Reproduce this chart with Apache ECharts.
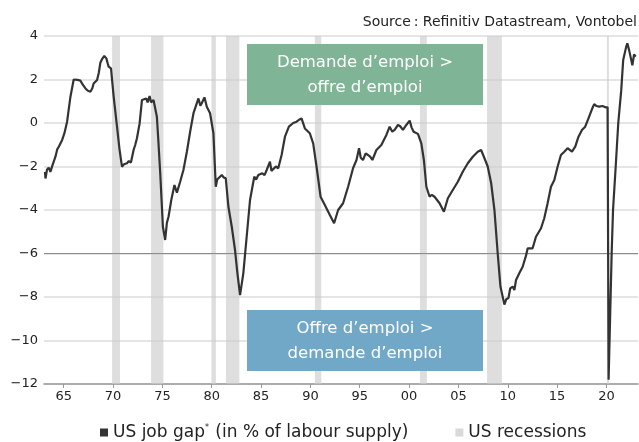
<!DOCTYPE html>
<html>
<head>
<meta charset="utf-8">
<script src="https://cdn.jsdelivr.net/npm/echarts@6/dist/echarts.min.js"></script>
<style>html,body{margin:0;padding:0;background:#fff}#c{width:639px;height:442px}</style>
</head>
<body>
<div id="c"></div>
<script>
// ---- data ----
const years = [1963.10,1963.15,1963.30,1963.48,1963.65,1963.83,1964.00,1964.16,1964.35,1964.50,1964.65,1964.84,1965.07,1965.34,1965.50,1965.68,1966.01,1966.18,1966.40,1966.69,1966.95,1967.20,1967.45,1967.70,1967.90,1968.03,1968.20,1968.38,1968.55,1968.71,1968.90,1969.11,1969.32,1969.45,1969.55,1969.79,1970.06,1970.40,1970.65,1970.90,1971.10,1971.41,1971.60,1971.81,1972.08,1972.25,1972.42,1972.69,1972.93,1973.10,1973.36,1973.50,1973.70,1973.85,1974.10,1974.44,1974.60,1974.78,1975.05,1975.28,1975.45,1975.62,1975.90,1976.22,1976.47,1976.80,1977.13,1977.48,1977.81,1978.15,1978.49,1978.65,1978.85,1978.99,1979.26,1979.50,1979.83,1980.17,1980.41,1980.55,1980.68,1981.02,1981.20,1981.42,1981.69,1982.03,1982.36,1982.60,1982.87,1983.20,1983.54,1983.88,1984.31,1984.50,1984.72,1985.12,1985.35,1985.57,1985.90,1986.05,1986.23,1986.50,1986.74,1987.08,1987.42,1987.82,1988.26,1988.60,1988.85,1989.10,1989.44,1989.94,1990.28,1990.62,1991.03,1991.46,1991.97,1992.40,1992.81,1993.31,1993.82,1994.32,1994.67,1994.93,1995.10,1995.33,1995.60,1995.84,1996.05,1996.28,1996.69,1997.19,1997.70,1998.03,1998.30,1998.54,1998.87,1999.10,1999.38,1999.72,2000.06,2000.25,2000.46,2000.90,2001.24,2001.50,2001.75,2002.08,2002.30,2002.58,2003.09,2003.53,2003.93,2004.43,2004.94,2005.44,2005.95,2006.46,2006.96,2007.30,2007.64,2007.97,2008.32,2008.65,2008.98,2009.26,2009.66,2009.85,2010.07,2010.25,2010.50,2010.67,2010.84,2011.18,2011.51,2011.85,2012.02,2012.52,2012.86,2013.37,2013.70,2014.04,2014.38,2014.72,2015.05,2015.39,2015.73,2016.06,2016.51,2016.84,2017.17,2017.52,2017.85,2018.18,2018.53,2018.76,2019.00,2019.27,2019.60,2019.90,2020.12,2020.22,2020.53,2020.67,2020.94,2021.20,2021.50,2021.70,2022.00,2022.12,2022.30,2022.47,2022.63,2022.80,2022.97];
const jobGap = [-2.25,-2.55,-2.15,-2.05,-2.25,-1.98,-1.90,-1.55,-1.20,-1.09,-1.00,-0.78,-0.47,0.06,0.60,1.21,2.00,2.05,1.98,1.95,1.75,1.59,1.48,1.44,1.60,1.82,1.90,1.98,2.30,2.77,2.95,3.08,2.97,2.75,2.59,2.51,1.21,-0.17,-1.20,-2.01,-1.90,-1.85,-1.75,-1.82,-1.24,-1.00,-0.70,-0.02,1.06,1.00,1.13,0.95,1.24,0.95,1.06,0.29,-0.90,-2.31,-4.77,-5.38,-4.60,-4.31,-3.54,-2.85,-3.20,-2.70,-2.16,-1.32,-0.40,0.45,0.91,1.13,0.80,0.91,1.18,0.75,0.45,-0.47,-2.93,-2.60,-2.54,-2.39,-2.50,-2.54,-3.85,-4.77,-5.84,-6.90,-7.91,-6.91,-5.23,-3.54,-2.47,-2.60,-2.39,-2.31,-2.40,-2.16,-1.78,-2.20,-2.24,-2.00,-2.08,-1.47,-0.63,-0.17,0.00,0.06,0.15,0.21,-0.25,-0.47,-0.94,-2.00,-3.39,-3.77,-4.23,-4.61,-4.00,-3.69,-2.93,-2.08,-1.70,-1.16,-1.60,-1.70,-1.40,-1.47,-1.55,-1.70,-1.24,-1.01,-0.55,-0.17,-0.40,-0.32,-0.09,-0.15,-0.32,-0.09,0.11,-0.20,-0.40,-0.50,-0.94,-1.70,-2.93,-3.39,-3.30,-3.39,-3.69,-4.08,-3.46,-3.08,-2.70,-2.24,-1.85,-1.55,-1.32,-1.24,-1.62,-2.00,-2.77,-4.00,-5.99,-7.52,-8.35,-8.10,-8.05,-7.60,-7.52,-7.68,-7.22,-6.90,-6.61,-6.10,-5.76,-5.76,-5.23,-4.84,-4.38,-3.69,-2.93,-2.62,-2.01,-1.47,-1.32,-1.16,-1.32,-1.09,-0.63,-0.32,-0.17,0.21,0.63,0.87,0.78,0.75,0.78,0.72,0.72,-11.80,-6.00,-4.00,-2.00,0.00,1.50,2.90,3.50,3.66,3.35,3.40,2.65,3.15,3.05];
const recessionStart = [1969.90,1973.85,1979.97,1981.45,1990.45,2001.10,2007.90,2020.05];
const recessionEnd   = [1970.70,1975.10,1980.42,1982.80,1991.10,2001.80,2009.40,2020.25];
const xTickYears = [1965,1970,1975,1980,1985,1990,1995,2000,2005,2010,2015,2020];
const seriesNames = ['US job gap', 'US recessions'];

const FONT = 'DejaVu Sans';
const chart = echarts.init(document.getElementById('c'), null, {renderer: 'canvas'});

const lineData = years.map((y, i) => [y, jobGap[i]]);
const bands = recessionStart.map((s, i) => [{xAxis: s}, {xAxis: recessionEnd[i]}]);

chart.setOption({
  animation: false,
  backgroundColor: '#fff',
  textStyle: {fontFamily: FONT},
  grid: {left: 44, right: 1, top: 36, bottom: 58, containLabel: false},
  title: {
    text: 'Source\u202F: Refinitiv Datastream, Vontobel',
    right: -3, top: 10,
    textStyle: {fontFamily: FONT, fontSize: 14, fontWeight: 'normal', color: '#222'}
  },
  legend: {
    bottom: -4, left: 95,
    itemWidth: 8, itemHeight: 8, itemGap: 47,
    icon: 'rect',
    data: seriesNames,
    formatter: function (n) {
      return n === seriesNames[0] ? '{a|US job gap}{s|*}{a| (in % of labour supply)}' : '{a|US recessions}';
    },
    textStyle: {
      fontFamily: FONT, fontSize: 17, color: '#222',
      rich: {
        a: {fontFamily: FONT, fontSize: 17, color: '#222'},
        s: {fontFamily: FONT, fontSize: 8, color: '#222', verticalAlign: 'top', padding: [0, 1, 9, 0]}
      }
    }
  },
  xAxis: {
    type: 'value', min: 1963, max: 2023.2,
    axisLine: {show: true, onZero: false, lineStyle: {color: '#999', width: 1.5}},
    axisTick: {show: true, length: 4, customValues: xTickYears, lineStyle: {color: '#999'}},
    axisLabel: {
      customValues: xTickYears, margin: 6, color: '#222', fontFamily: FONT, fontSize: 13,
      formatter: v => String(Math.round(v)).slice(2)
    },
    splitLine: {show: false}
  },
  yAxis: {
    type: 'value', min: -12, max: 4, interval: 2,
    axisLine: {show: false}, axisTick: {show: false},
    axisLabel: {
      color: '#222', fontFamily: FONT, fontSize: 13, margin: 6,
      formatter: v => (v < 0 ? '\u2212' + Math.abs(v) : String(v))
    },
    splitLine: {show: true, lineStyle: {color: '#dcdcdc', width: 1.5}}
  },
  graphic: [
    {
      type: 'rect', left: 247, top: 44, z: 50,
      shape: {width: 236, height: 61},
      style: {fill: '#80b496'}
    },
    {
      type: 'text', z: 51,
      style: {
        text: 'Demande d\u2019emploi >\noffre d\u2019emploi',
        fill: '#fff', font: '16.5px "' + FONT + '"', align: 'center', lineHeight: 25
      },
      position: [365, 50]
    },
    {
      type: 'rect', left: 247, top: 310, z: 50,
      shape: {width: 236, height: 61},
      style: {fill: '#72a8c7'}
    },
    {
      type: 'text', z: 51,
      style: {
        text: 'Offre d\u2019emploi >\ndemande d\u2019emploi',
        fill: '#fff', font: '16.5px "' + FONT + '"', align: 'center', lineHeight: 25
      },
      position: [365, 316]
    }
  ],
  series: [
    {
      name: seriesNames[1], type: 'line', data: [],
      itemStyle: {color: '#d9d9d9'}, lineStyle: {color: '#d9d9d9'},
      symbol: 'none', silent: true, z: 1,
      markArea: {silent: true, itemStyle: {color: 'rgba(205,205,205,0.65)'}, data: bands},
      markLine: {
        silent: true, symbol: 'none', label: {show: false},
        lineStyle: {color: '#8c8c8c', width: 1, type: 'solid'},
        data: [{yAxis: -6}]
      }
    },
    {
      name: seriesNames[0], type: 'line', data: lineData,
      symbol: 'none', z: 5,
      itemStyle: {color: '#333'},
      lineStyle: {color: '#333', width: 2.2}
    }
  ]
});
</script>
</body>
</html>
